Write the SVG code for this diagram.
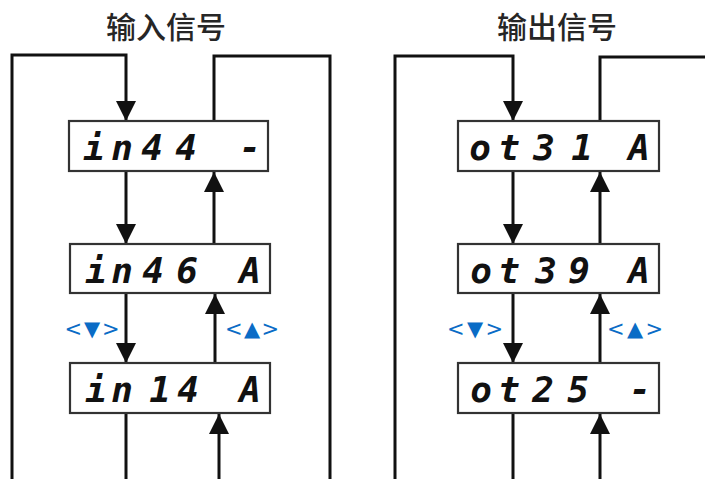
<svg xmlns="http://www.w3.org/2000/svg" width="705" height="479" viewBox="0 0 705 479">
<defs>
<marker id="ah" markerUnits="userSpaceOnUse" markerWidth="20" markerHeight="22" viewBox="0 0 20 22" refX="20" refY="10" orient="auto">
<path d="M0,0 L20,10 L0,20 Z" fill="#111"/>
</marker>
</defs>
<style>
.title{font-family:"Noto Sans CJK SC","Noto Sans",sans-serif;font-size:30px;font-weight:500;fill:#262626;text-anchor:middle}
.box{fill:#fff;stroke:#333;stroke-width:2.2}
.seg{font-family:"DejaVu Sans Mono",monospace;font-weight:bold;font-style:italic;font-size:36px;fill:#111;text-anchor:middle}
.ln{fill:none;stroke:#111;stroke-width:3}
.arr{fill:none;stroke:#111;stroke-width:3;marker-end:url(#ah)}
.key{font-family:"DejaVu Sans",sans-serif;font-size:21px;fill:#0a6cc6;text-anchor:middle}
</style>
<rect width="705" height="479" fill="#fff"/>
<text class="title" x="166" y="38">输入信号</text>
<text class="title" x="557" y="38">输出信号</text>

<g id="connectors">
<path class="arr" d="M12,479 V55 H126 V121"/>
<path class="ln" d="M214,121 V56 H330 V479"/>
<path class="arr" d="M126,171 V244"/>
<path class="arr" d="M214,244 V172"/>
<path class="arr" d="M126,293 V363"/>
<path class="arr" d="M215,363 V294"/>
<path class="ln" d="M126,413 V479"/>
<path class="arr" d="M219,479 V414"/>

<path class="arr" d="M395,479 V56 H513 V121"/>
<path class="ln" d="M600,121 V57 H705"/>
<path class="arr" d="M513,171 V244"/>
<path class="arr" d="M600,244 V172"/>
<path class="arr" d="M513,293 V363"/>
<path class="arr" d="M600,363 V294"/>
<path class="ln" d="M513,413 V479"/>
<path class="arr" d="M600,479 V414"/>
</g>

<g id="in44">
<rect class="box" x="69" y="121" width="199" height="50"/>
<text class="seg" x="94 122 152 186 218 250" y="160">in44 -</text>
</g>
<g id="in46">
<rect class="box" x="70" y="244" width="200" height="49"/>
<text class="seg" x="96 122 153 187 219 250" y="283">in46 A</text>
</g>
<g id="in14">
<rect class="box" x="70" y="363" width="200" height="50"/>
<text class="seg" x="96 122 160 188 219 250" y="402">in14 A</text>
</g>

<g id="ot31">
<rect class="box" x="458" y="121" width="201" height="50"/>
<text class="seg" x="480 509 544 582 610 639" y="160">ot31 A</text>
</g>
<g id="ot39">
<rect class="box" x="458" y="244" width="201" height="49"/>
<text class="seg" x="481 509 546 579 610 639" y="283">ot39 A</text>
</g>
<g id="ot25">
<rect class="box" x="458" y="363" width="201" height="50"/>
<text class="seg" x="481 509 543 578 610 640" y="402">ot25 -</text>
</g>

<g id="keys">
<text class="key" x="92" y="336" textLength="55" lengthAdjust="spacing">&lt;▼&gt;</text>
<text class="key" x="252" y="336" textLength="54" lengthAdjust="spacing">&lt;▲&gt;</text>
<text class="key" x="475" y="336" textLength="56" lengthAdjust="spacing">&lt;▼&gt;</text>
<text class="key" x="635" y="336" textLength="56" lengthAdjust="spacing">&lt;▲&gt;</text>
</g>
</svg>
